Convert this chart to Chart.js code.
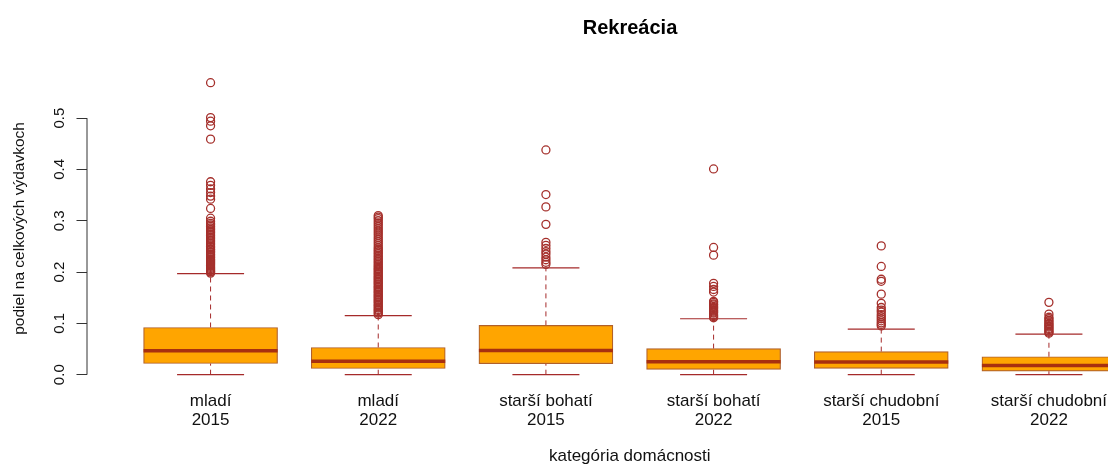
<!DOCTYPE html>
<html>
<head>
<meta charset="utf-8">
<title>Rekreácia</title>
<script src="https://cdn.jsdelivr.net/npm/chart.js@4.4.1/dist/chart.umd.min.js"></script>
<style>
    html, body { margin: 0; padding: 0; background: #fff; overflow: hidden; }
    #wrap { width: 1260px; height: 466px; position: relative; }
</style>
</head>
<body>
<div id="wrap"><canvas id="boxChart"></canvas></div>
<script>
// Box plot data
const categories = [
    ['mladí', '2015'],
    ['mladí', '2022'],
    ['starší bohatí', '2015'],
    ['starší bohatí', '2022'],
    ['starší chudobní', '2015'],
    ['starší chudobní', '2022']
];
const boxPositions = [1, 2, 3, 4, 5, 6];
const whiskerLow  = [0, 0, 0, 0, 0, 0];
const q1          = [0.0218, 0.012, 0.0215, 0.0105, 0.0122, 0.0068];
const medians     = [0.0467, 0.026, 0.047, 0.0253, 0.0247, 0.018];
const q3          = [0.092, 0.053, 0.0961, 0.0508, 0.045, 0.035];
const whiskerHigh = [0.197, 0.115, 0.208, 0.109, 0.089, 0.079];

const outliersMladi2015 = [0.569, 0.501, 0.494, 0.485, 0.459, 0.376, 0.369, 0.362, 0.355, 0.348, 0.342,
    0.324, 0.305, 0.299, 0.295, 0.292, 0.289, 0.286, 0.283, 0.28, 0.277, 0.274, 0.271, 0.268, 0.265,
    0.262, 0.259, 0.256, 0.253, 0.25, 0.248, 0.245, 0.243, 0.24, 0.238, 0.235, 0.233, 0.23, 0.228,
    0.225, 0.223, 0.221, 0.219, 0.217, 0.215, 0.213, 0.211, 0.209, 0.207, 0.205, 0.203, 0.201, 0.2, 0.198];
const outliersMladi2022 = [0.31, 0.307, 0.304, 0.3, 0.296, 0.292, 0.288, 0.284, 0.28, 0.276, 0.272, 0.268,
    0.264, 0.26, 0.256, 0.252, 0.248, 0.245, 0.242, 0.239, 0.236, 0.233, 0.23, 0.227, 0.224, 0.221,
    0.218, 0.215, 0.212, 0.21, 0.207, 0.205, 0.202, 0.2, 0.197, 0.195, 0.192, 0.19, 0.187, 0.185,
    0.182, 0.18, 0.177, 0.175, 0.172, 0.17, 0.167, 0.165, 0.162, 0.16, 0.157, 0.155, 0.152, 0.15,
    0.147, 0.145, 0.142, 0.14, 0.137, 0.135, 0.132, 0.13, 0.127, 0.125, 0.122, 0.12, 0.117];
const outliersBohati2015 = [0.438, 0.351, 0.327, 0.293, 0.258, 0.252, 0.246, 0.24, 0.235, 0.229, 0.224, 0.219, 0.215];
const outliersBohati2022 = [0.401, 0.248, 0.233, 0.178, 0.172, 0.166, 0.161, 0.143, 0.141, 0.138, 0.136,
    0.133, 0.131, 0.129, 0.126, 0.124, 0.122, 0.12, 0.117, 0.115, 0.113, 0.111];
const outliersChudobni2015 = [0.251, 0.211, 0.186, 0.182, 0.157, 0.139, 0.131, 0.126, 0.122, 0.117, 0.113,
    0.109, 0.105, 0.101, 0.098, 0.095];
const outliersChudobni2022 = [0.141, 0.118, 0.112, 0.109, 0.106, 0.103, 0.1, 0.098, 0.095, 0.093, 0.09,
    0.088, 0.085, 0.083, 0.081];
const outlierGroups = [outliersMladi2015, outliersMladi2022, outliersBohati2015,
    outliersBohati2022, outliersChudobni2015, outliersChudobni2022];

const yTickValues = [0, 0.1, 0.2, 0.3, 0.4, 0.5];

const BROWN = '#A52A2A';
const FONT = "'Liberation Sans', Arial, sans-serif";

// R draws the y axis line only across the tick range
const axisLinePlugin = {
    id: 'axisLine',
    afterDraw(chart) {
        const y = chart.scales.y;
        const x = chart.chartArea.left;
        const ctx = chart.ctx;
        ctx.save();
        ctx.strokeStyle = '#333';
        ctx.lineWidth = 1;
        ctx.beginPath();
        ctx.moveTo(x + 0.5, y.getPixelForValue(yTickValues[0]));
        ctx.lineTo(x + 0.5, y.getPixelForValue(yTickValues[yTickValues.length - 1]));
        ctx.stroke();
        ctx.restore();
    }
};

const whiskerData = [];
boxPositions.forEach((x, i) => {
    whiskerData.push({ x, y: whiskerLow[i] }, { x, y: q1[i] }, { x, y: null });
    whiskerData.push({ x, y: q3[i] }, { x, y: whiskerHigh[i] }, { x, y: null });
});
const capData = [];
boxPositions.forEach((x, i) => {
    capData.push({ x, y: whiskerLow[i] }, { x, y: whiskerHigh[i] });
});
const outlierData = [];
outlierGroups.forEach((g, i) => g.forEach(v => outlierData.push({ x: boxPositions[i], y: v })));

new Chart(document.getElementById('boxChart'), {
    type: 'bar',
    data: {
        datasets: [
            {
                type: 'scatter',
                data: outlierData,
                pointStyle: 'circle',
                pointRadius: 4,
                backgroundColor: 'rgba(0,0,0,0)',
                borderColor: '#A5302C',
                borderWidth: 1.3
            },
            {
                type: 'scatter',
                data: boxPositions.map((x, i) => ({ x, y: medians[i] })),
                pointStyle: 'line',
                pointRadius: 67,
                borderColor: '#A8300F',
                borderWidth: 3.5
            },
            {
                type: 'scatter',
                data: capData,
                pointStyle: 'line',
                pointRadius: 33.5,
                borderColor: BROWN,
                borderWidth: 1.2
            },
            {
                type: 'bar',
                data: boxPositions.map((x, i) => ({ x, y: [q1[i], q3[i]] })),
                backgroundColor: '#FFA500',
                borderColor: '#B0602A',
                borderWidth: 1.2,
                borderSkipped: false,
                barThickness: 134
            },
            {
                type: 'line',
                data: whiskerData,
                borderColor: BROWN,
                borderWidth: 1,
                borderDash: [5, 4],
                pointRadius: 0,
                spanGaps: false,
                fill: false
            }
        ]
    },
    options: {
        responsive: true,
        maintainAspectRatio: false,
        animation: false,
        events: [],
        layout: { padding: 0 },
        plugins: {
            legend: { display: false },
            tooltip: { enabled: false },
            title: {
                display: true,
                text: 'Rekreácia',
                color: '#000',
                font: { family: FONT, size: 20, weight: 'bold', lineHeight: 1.2 },
                padding: { top: 11, bottom: 30 }
            }
        },
        scales: {
            x: {
                type: 'linear',
                min: 0.26,
                max: 6.74,
                offset: false,
                grid: { display: false },
                border: { display: false },
                afterBuildTicks(scale) { scale.ticks = boxPositions.map(v => ({ value: v })); },
                afterFit(scale) { scale.height = 79.6; },
                ticks: {
                    autoSkip: false,
                    maxRotation: 0,
                    padding: -3,
                    color: '#111',
                    font: { family: FONT, size: 17, lineHeight: 1.12 },
                    callback: (v) => categories[boxPositions.indexOf(v)]
                },
                title: {
                    display: true,
                    text: 'kategória domácnosti',
                    color: '#111',
                    font: { family: FONT, size: 17, lineHeight: 1 },
                    padding: { top: 0, bottom: 1 }
                }
            },
            y: {
                type: 'linear',
                position: 'left',
                min: -0.0228,
                max: 0.5928,
                grid: { drawOnChartArea: false, drawTicks: true, tickLength: 10, color: '#333' },
                border: { display: false },
                afterBuildTicks(scale) { scale.ticks = yTickValues.map(v => ({ value: v })); },
                afterFit(scale) { scale.width = 86.5; },
                ticks: {
                    minRotation: 90,
                    maxRotation: 90,
                    crossAlign: 'center',
                    padding: 6,
                    color: '#111',
                    font: { family: FONT, size: 15 },
                    callback: (v) => v.toFixed(1)
                },
                title: {
                    display: true,
                    text: 'podiel na celkových výdavkoch',
                    color: '#111',
                    font: { family: FONT, size: 15.5, lineHeight: 1 },
                    padding: { top: 12.3, bottom: 0 }
                }
            },
            yRight: {
                type: 'linear',
                position: 'right',
                display: true,
                grid: { display: false },
                border: { display: false },
                ticks: { display: false },
                afterFit(scale) { scale.width = 87; }
            }
        }
    },
    plugins: [axisLinePlugin]
});
</script>
</body>
</html>
